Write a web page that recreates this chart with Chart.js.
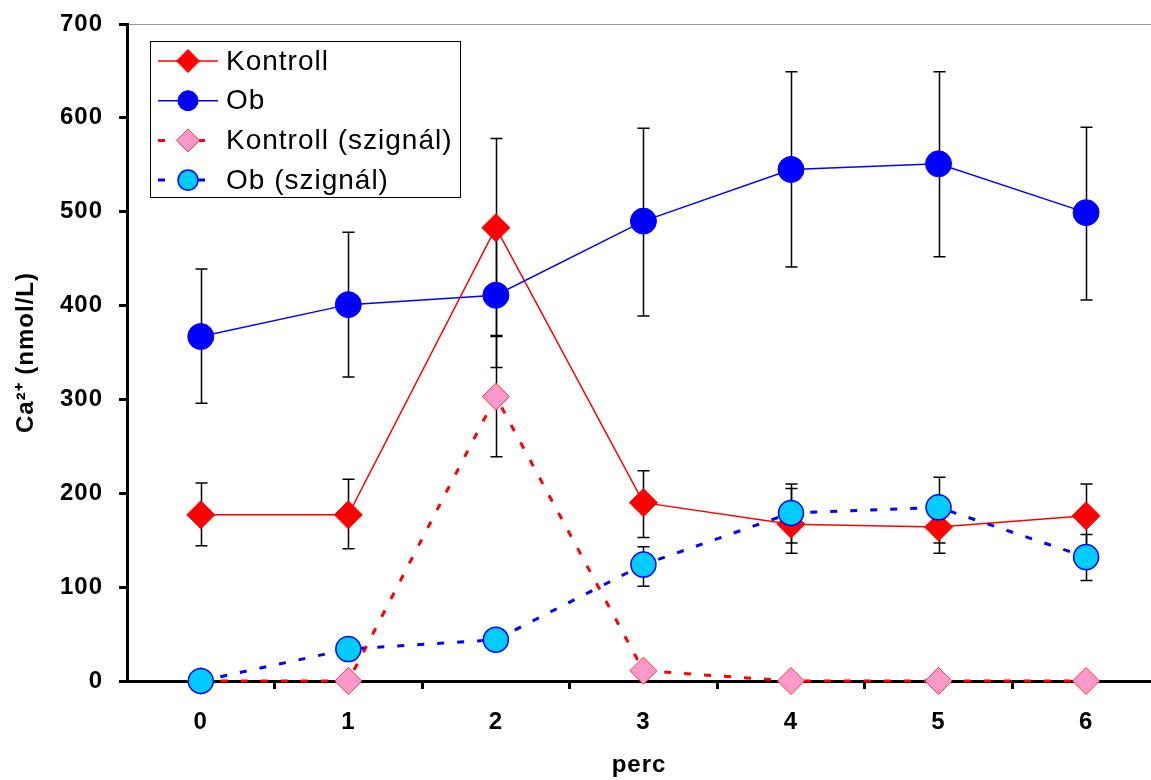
<!DOCTYPE html>
<html>
<head>
<meta charset="utf-8">
<script src="https://cdn.jsdelivr.net/npm/chart.js@4.4.0/dist/chart.umd.min.js"></script>
<style>
  html, body { margin: 0; padding: 0; background: #fff; }
  #wrap { width: 1151px; height: 780px; }
</style>
</head>
<body>
<div id="wrap"><canvas id="caChart" width="1151" height="780"></canvas></div>
<script>
// perc (minutes)
const perc = [0, 1, 2, 3, 4, 5, 6];

const kontroll = [177, 177, 483, 190, 167, 164, 176];
const kontrollErrUp = [34, 38, 95, 34, 38, 28, 34];
const kontrollErrDown = [33, 36, 115, 37, 31, 28, 34];

const ob = [367, 401, 411, 490, 545, 551, 499];
const obErrUp = [72, 77, 77, 99, 104, 98, 91];
const obErrDown = [71, 77, 77, 101, 104, 99, 93];

const kontrollSz = [0, 0, 303, 11, 0, 0, 0];
const kontrollSzErr = [0, 0, 64, 0, 0, 0, 0];

const obSz = [0, 34, 44, 124, 179, 185, 132];
const obSzErrUp = [0, 0, 0, 19, 31, 32, 24];
const obSzErrDown = [0, 0, 0, 23, 32, 38, 25];

const yTicks = [0, 100, 200, 300, 400, 500, 600, 700];

const FONT = '"Liberation Sans", Arial, sans-serif';

function pts(vals) {
    return perc.map((p, i) => ({ x: p, y: vals[i] }));
}

// vertical error bars with caps
const errorBars = {
    id: 'errorBars',
    beforeDatasetsDraw(chart) {
        const ctx = chart.ctx;
        const xs = chart.scales.x, ys = chart.scales.y;
        ctx.save();
        ctx.strokeStyle = '#000';
        ctx.lineWidth = 1.5;
        chart.data.datasets.forEach(ds => {
            ds.data.forEach((d, i) => {
                const up = ds.errUp[i], down = ds.errDown[i];
                if (!up && !down) return;
                const px = Math.round(xs.getPixelForValue(d.x)) + 0.5;
                const top = ys.getPixelForValue(d.y + up);
                const bot = ys.getPixelForValue(d.y - down);
                ctx.beginPath();
                ctx.moveTo(px, top); ctx.lineTo(px, bot);
                if (up) { ctx.moveTo(px - 6, top); ctx.lineTo(px + 6, top); }
                if (down) { ctx.moveTo(px - 6, bot); ctx.lineTo(px + 6, bot); }
                ctx.stroke();
            });
        });
        ctx.restore();
    }
};

// legend drawn as a box inside the plot
const legendBox = {
    id: 'legendBox',
    beforeDraw(chart) {
        chart.ctx.letterSpacing = '1px';
    },
    afterDraw(chart) {
        const ctx = chart.ctx;
        ctx.save();
        ctx.fillStyle = '#fff';
        ctx.fillRect(150.5, 41.5, 310, 156);
        ctx.strokeStyle = '#000';
        ctx.lineWidth = 1;
        ctx.strokeRect(150.5, 41.5, 310, 156);
        chart.data.datasets.forEach((ds, row) => {
            const y = 61 + row * 39.7;
            ctx.strokeStyle = ds.borderColor;
            ctx.lineWidth = ds.borderWidth;
            ctx.setLineDash(ds.borderDash || []);
            ctx.beginPath();
            ctx.moveTo(158, y); ctx.lineTo(218, y);
            ctx.stroke();
            ctx.setLineDash([]);
            ctx.fillStyle = ds.pointBackgroundColor;
            ctx.strokeStyle = ds.pointBorderColor;
            ctx.lineWidth = ds.pointBorderWidth;
            Chart.helpers.drawPoint(ctx, {
                pointStyle: ds.pointStyle,
                radius: ds.pointStyle === 'circle' ? 10 : 11.5,
                borderWidth: ds.pointBorderWidth,
                rotation: 0
            }, 188, y);
            ctx.fillStyle = '#000';
            ctx.font = '28px ' + FONT;
            ctx.textBaseline = 'middle';
            ctx.textAlign = 'left';
            ctx.fillText(ds.label, 226, y + 1);
        });
        ctx.restore();
    }
};

function noPad(scale) {
    scale.paddingTop = 0;
    scale.paddingBottom = 0;
    scale.paddingLeft = 0;
    scale.paddingRight = 0;
}

new Chart(document.getElementById('caChart'), {
    type: 'line',
    data: {
        datasets: [
            {
                label: 'Kontroll',
                data: pts(kontroll),
                errUp: kontrollErrUp, errDown: kontrollErrDown,
                borderColor: '#ff0000', borderWidth: 1.5,
                pointStyle: 'rectRot', pointRadius: 14,
                pointBackgroundColor: '#ff0000', pointBorderColor: '#ff0000', pointBorderWidth: 1,
                order: 4, clip: false
            },
            {
                label: 'Ob',
                data: pts(ob),
                errUp: obErrUp, errDown: obErrDown,
                borderColor: '#0000ff', borderWidth: 1.5,
                pointStyle: 'circle', pointRadius: 13,
                pointBackgroundColor: '#0000ff', pointBorderColor: '#0000ff', pointBorderWidth: 1,
                order: 3, clip: false
            },
            {
                label: 'Kontroll (szignál)',
                data: pts(kontrollSz),
                errUp: kontrollSzErr, errDown: kontrollSzErr,
                borderColor: '#ff0000', borderWidth: 3, borderDash: [7, 13],
                pointStyle: 'rectRot', pointRadius: 13.5,
                pointBackgroundColor: '#ff99cc', pointBorderColor: '#ff3333', pointBorderWidth: 1,
                order: 2, clip: false
            },
            {
                label: 'Ob (szignál)',
                data: pts(obSz),
                errUp: obSzErrUp, errDown: obSzErrDown,
                borderColor: '#0000ff', borderWidth: 3, borderDash: [7, 13],
                pointStyle: 'circle', pointRadius: 12.5,
                pointBackgroundColor: '#00ccff', pointBorderColor: '#0000ff', pointBorderWidth: 1.5,
                order: 1, clip: false
            }
        ]
    },
    options: {
        responsive: false,
        animation: false,
        devicePixelRatio: 1,
        layout: { autoPadding: false, padding: { top: 24, right: 0, bottom: 0, left: 0 } },
        plugins: {
            legend: { display: false },
            tooltip: { enabled: false }
        },
        elements: { line: { tension: 0 } },
        scales: {
            x: {
                type: 'linear',
                min: -0.5,
                max: 6.44,
                afterBuildTicks(scale) {
                    const t = [];
                    for (let v = -0.5; v <= 6; v += 0.5) t.push({ value: v });
                    scale.ticks = t;
                },
                afterFit(scale) { scale.height = 99; noPad(scale); },
                ticks: {
                    autoSkip: false,
                    maxRotation: 0,
                    padding: 19,
                    color: '#000',
                    font: { family: FONT, size: 24, weight: 'bold' },
                    callback: v => Number.isInteger(v) ? String(perc[v]) : ''
                },
                grid: {
                    drawOnChartArea: false,
                    tickLength: 8,
                    lineWidth: 3,
                    tickColor: c => (c.tick && !Number.isInteger(c.tick.value) && c.tick.value > -0.5) ? '#000' : 'rgba(0,0,0,0)'
                },
                border: { color: '#000', width: 3 },
                title: {
                    display: true,
                    text: 'perc',
                    color: '#000',
                    font: { family: FONT, size: 24, weight: 'bold' },
                    padding: { top: 0, bottom: 0 }
                }
            },
            y: {
                min: 0,
                max: 700,
                afterBuildTicks(scale) {
                    scale.ticks = yTicks.map(v => ({ value: v }));
                },
                afterFit(scale) { scale.width = 127; noPad(scale); },
                ticks: {
                    padding: 16,
                    color: '#000',
                    font: { family: FONT, size: 24, weight: 'bold' }
                },
                grid: {
                    tickLength: 8,
                    lineWidth: 1,
                    tickWidth: 3,
                    tickColor: '#000',
                    color: c => (c.tick && c.tick.value === 700) ? '#999999' : 'rgba(0,0,0,0)'
                },
                border: { color: '#000', width: 3 },
                title: {
                    display: true,
                    text: 'Ca²⁺ (nmol/L)',
                    color: '#000',
                    font: { family: FONT, size: 24, weight: 'bold' },
                    padding: { top: 12, bottom: 0 }
                }
            }
        }
    },
    plugins: [errorBars, legendBox]
});
</script>
</body>
</html>
